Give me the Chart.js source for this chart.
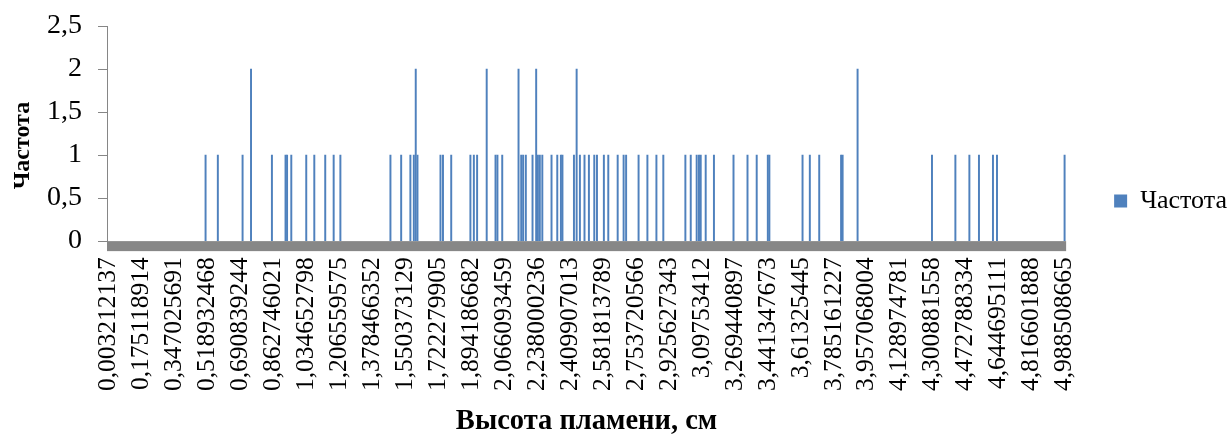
<!DOCTYPE html>
<html><head><meta charset="utf-8">
<script src="https://cdn.jsdelivr.net/npm/chart.js@4/dist/chart.umd.min.js"></script>
<style>html,body{margin:0;padding:0;background:#fff;}canvas{display:block;}</style>
</head><body>
<canvas id="c" width="1229" height="434"></canvas>
<script>
const seriesName = 'Частота';
const xAxisTitle = 'Высота пламени, см';
const yAxisTitle = 'Частота';
const xTickLabels = ['0,003212137','0,175118914','0,347025691','0,518932468','0,690839244','0,862746021',
  '1,034652798','1,206559575','1,378466352','1,550373129','1,722279905','1,894186682','2,066093459',
  '2,238000236','2,409907013','2,581813789','2,753720566','2,925627343','3,09753412','3,269440897',
  '3,441347673','3,61325445','3,785161227','3,957068004','4,128974781','4,300881558','4,472788334',
  '4,644695111','4,816601888','4,988508665'];
const yTickLabels = ['0','0,5','1','1,5','2','2,5'];
const binValues = [0.509,0.573,0.702,0.746,0.855,0.926,0.934,0.956,1.034,1.076,1.133,1.177,1.212,
  1.473,1.529,1.577,1.595,1.605,1.614,1.734,1.747,1.790,1.890,1.908,1.925,1.975,2.021,2.031,2.056,
  2.141,2.155,2.165,2.179,2.214,2.233,2.242,2.252,2.265,2.313,2.343,2.362,2.370,2.430,2.444,2.461,
  2.485,2.508,2.536,2.550,2.586,2.609,2.658,2.689,2.702,2.767,2.813,2.860,2.896,3.011,3.039,3.070,
  3.082,3.091,3.117,3.160,3.262,3.335,3.383,3.441,3.449,3.622,3.660,3.709,3.823,3.831,3.909,4.297,
  4.419,4.492,4.542,4.615,4.636,4.9885];
const frequencies = [1,1,1,2,1,1,1,1,1,1,1,1,1,
  1,1,1,1,2,1,1,1,1,1,1,1,2,1,1,1,
  2,1,1,1,1,2,1,1,1,1,1,1,1,1,2,1,
  1,1,1,1,1,1,1,1,1,1,1,1,1,1,1,1,
  1,1,1,1,1,1,1,1,1,1,1,1,1,1,2,1,
  1,1,1,1,1,1];

const toNum = s => parseFloat(s.replace(',', '.'));
const points = binValues.map((v, i) => ({x: v, y: frequencies[i]}));

const axisBand = {
  id: 'axisBand',
  beforeDatasetsDraw(chart) {
    const {ctx, scales: {x, y}} = chart;
    const y0 = y.getPixelForValue(0);
    ctx.save();
    ctx.fillStyle = '#878787';
    ctx.fillRect(x.left, y0, x.right - x.left, 10);
    ctx.restore();
  }
};

const noScalePadTop = s => { s.paddingTop = 0; };

new Chart(document.getElementById('c'), {
  type: 'bar',
  data: {
    datasets: [{
      label: seriesName,
      data: points,
      backgroundColor: '#4F81BD',
      borderWidth: 0,
      barThickness: 1.3
    }]
  },
  options: {
    responsive: false,
    animation: false,
    layout: {padding: {left: 4, top: 26, right: -8, bottom: 0}},
    plugins: {
      legend: {
        position: 'right',
        align: 'start',
        title: {display: true, text: '', font: {size: 10}, padding: {top: 102, bottom: 0}},
        labels: {
          boxWidth: 13, boxHeight: 13, padding: 48,
          color: '#000',
          font: {family: 'Liberation Serif', size: 26}
        }
      },
      tooltip: {enabled: false}
    },
    scales: {
      x: {
        type: 'linear',
        offset: false,
        min: -0.005,
        max: 4.9965,
        afterBuildTicks: s => { s.ticks = xTickLabels.map(t => ({value: toNum(t)})); },
        afterFit: noScalePadTop,
        grid: {display: false, drawTicks: false},
        border: {display: false},
        ticks: {
          autoSkip: false,
          minRotation: 90, maxRotation: 90,
          padding: 16,
          color: '#000',
          font: {family: 'Liberation Serif', size: 25.5},
          callback: (v, i) => xTickLabels[i]
        },
        title: {
          display: true, text: xAxisTitle, color: '#000',
          font: {family: 'Liberation Serif', size: 28.5, weight: 'bold', lineHeight: 0.9},
          padding: {top: 1.35, bottom: 0}
        }
      },
      y: {
        min: 0, max: 2.5,
        afterBuildTicks: s => { s.ticks = yTickLabels.map(t => ({value: toNum(t)})); },
        afterFit: noScalePadTop,
        grid: {drawOnChartArea: false, drawTicks: true, tickLength: 9, color: '#868686'},
        border: {display: true, color: '#868686', width: 1},
        ticks: {
          padding: 16,
          color: '#000',
          font: {family: 'Liberation Serif', size: 28},
          callback: (v, i) => yTickLabels[i]
        },
        title: {
          display: true, text: yAxisTitle + '    ', color: '#000',
          font: {family: 'Liberation Serif', size: 24, weight: 'bold', lineHeight: 0.5},
          padding: {top: 13, bottom: 2}
        }
      }
    }
  },
  plugins: [axisBand]
});
</script>
</body></html>
